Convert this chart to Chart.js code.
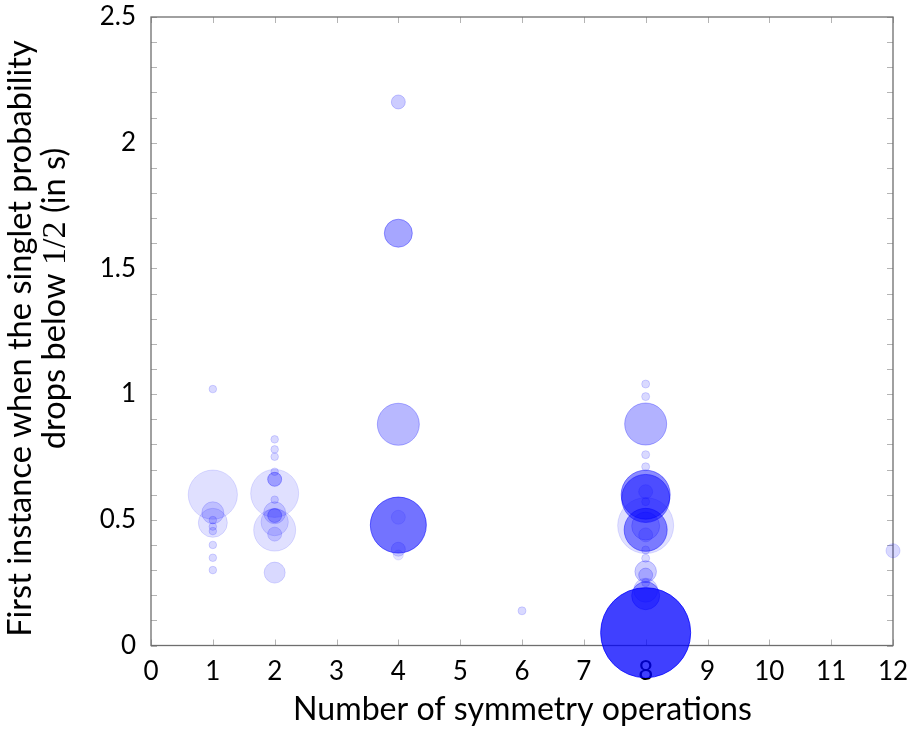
<!DOCTYPE html>
<html><head><meta charset="utf-8">
<script src="https://cdn.jsdelivr.net/npm/chart.js@4"></script>
<style>html,body{margin:0;padding:0;background:#fff}#wrap{width:914px;height:735px}</style>
</head><body><div id="wrap"><canvas id="c" width="914" height="735"></canvas></div>
<script>
// ---- data ----
const xTickValues = [0,1,2,3,4,5,6,7,8,9,10,11,12];
const yTickLabels = ["0","0.5","1","1.5","2","2.5"];
const xTitle = "Number of symmetry operations";
const yTitleLine1 = "First instance when the singlet probability";
const yTitleLine2 = ["drops below ", "1/2", " (in s)"];

const symOps = [
  1,1,1,1,1,1,1,1,1,1,
  2,2,2,2,2,2,2,2,2,2,2,2,2,
  4,4,4,4,4,4,4,
  6,
  8,8,8,8,8,8,8,8,8,8,8,8,8,8,8,8,8,8,8,8,8,
  12
];
const firstDrop = [
  1.02,0.60,0.528,0.488,0.499,0.473,0.455,0.40,0.349,0.30,
  0.82,0.78,0.751,0.691,0.661,0.605,0.58,0.528,0.517,0.491,0.459,0.443,0.29,
  2.162,1.64,0.88,0.479,0.51,0.383,0.36,
  0.138,
  1.04,0.99,0.881,0.759,0.711,0.477,0.60,0.585,0.612,0.572,0.46,0.475,0.44,0.38,0.347,0.294,0.28,0.25,0.22,0.198,0.051,
  0.377
];
const bubbleSize = [
  3.8,24.6,11,14.5,3.8,3.8,3.8,3.8,3.8,3.8,
  3.8,3.8,3.8,3.8,7,24,3.8,11,7,13.7,21,7,10.5,
  7,14,21,28,7,7,5,
  4,
  4,4,21,4,4,28,24.5,24,7,4,21.5,14,7,4,4,10.8,7,4,12,14,45,
  7
];
const opacity = [
  0.15,0.12,0.15,0.12,0.15,0.15,0.15,0.15,0.15,0.15,
  0.15,0.15,0.15,0.15,0.3,0.12,0.15,0.15,0.25,0.12,0.12,0.15,0.15,
  0.2,0.35,0.28,0.55,0.1,0.15,0.1,
  0.15,
  0.15,0.15,0.3,0.15,0.15,0.12,0.45,0.45,0.15,0.15,0.45,0.2,0.15,0.15,0.15,0.2,0.2,0.15,0.15,0.35,0.75,
  0.15
];

// ---- chart ----
const SANS = "Lato";
const SERIF = "'Liberation Serif'";
const points = symOps.map((x,i)=>({x:x, y:firstDrop[i], r:bubbleSize[i]}));
const fills = opacity.map(a=>`rgba(0,0,255,${a})`);

const framePlugin = {
  id:'frame',
  beforeDatasetsDraw(chart){
    const ctx = chart.ctx, a = chart.chartArea;
    const xs = chart.scales.x, ys = chart.scales.y;
    ctx.save();
    // inward ticks
    ctx.strokeStyle = '#b4b4b4'; ctx.lineWidth = 1;
    ctx.beginPath();
    xTickValues.forEach(v=>{
      const px = Math.round(xs.getPixelForValue(v))+0.5;
      ctx.moveTo(px,a.bottom); ctx.lineTo(px,a.bottom-6);
      ctx.moveTo(px,a.top); ctx.lineTo(px,a.top+6);
    });
    for(let k=0;k<=25;k++){
      const py = Math.round(ys.getPixelForValue(k/10))+0.5;
      ctx.moveTo(a.left,py); ctx.lineTo(a.left+6,py);
      ctx.moveTo(a.right,py); ctx.lineTo(a.right-6,py);
    }
    ctx.stroke();
    // frame
    ctx.strokeStyle = '#6e6e6e'; ctx.lineWidth = 1.3;
    ctx.strokeRect(a.left, a.top, a.right-a.left, a.bottom-a.top);
    ctx.restore();
    // titles
    ctx.save();
    ctx.fillStyle = '#000';
    ctx.textBaseline = 'alphabetic';
    // x title
    ctx.font = `100px ${SANS}`;
    let w = ctx.measureText(xTitle).width;
    const fx = 100*459/w;
    ctx.font = `${fx}px ${SANS}`;
    ctx.textAlign = 'center';
    ctx.fillText(xTitle, 522.5, 720);
    // y title line 1
    ctx.font = `100px ${SANS}`;
    w = ctx.measureText(yTitleLine1).width;
    const fy = 100*597/w;
    ctx.save();
    ctx.translate(31, 338.5);
    ctx.rotate(-Math.PI/2);
    ctx.font = `${fy}px ${SANS}`;
    ctx.textAlign = 'center';
    ctx.fillText(yTitleLine1, 0, 0);
    ctx.restore();
    // y title line 2 (mixed fonts)
    const fonts = [`${fy}px ${SANS}`, `${fy*1.05}px ${SERIF}`, `${fy}px ${SANS}`];
    let widths = yTitleLine2.map((t,i)=>{ctx.font=fonts[i]; return ctx.measureText(t).width;});
    const total = widths.reduce((s,v)=>s+v,0);
    ctx.save();
    ctx.translate(65, 298.5);
    ctx.rotate(-Math.PI/2);
    ctx.textAlign = 'left';
    let pos = -total/2;
    yTitleLine2.forEach((t,i)=>{ctx.font=fonts[i]; ctx.fillText(t,pos,0); pos+=widths[i];});
    ctx.restore();
    ctx.restore();
  }
};

function noPad(s){ s.paddingTop=0; s.paddingBottom=0; s.paddingLeft=0; s.paddingRight=0; }

new Chart(document.getElementById('c'), {
  type:'bubble',
  data:{datasets:[{
    data:points,
    backgroundColor:fills,
    borderColor:fills,
    borderWidth:1,
    clip:false
  }]},
  options:{
    responsive:false, animation:false, devicePixelRatio:1, events:[],
    layout:{autoPadding:false, padding:{top:17,right:21,left:0,bottom:0}},
    plugins:{legend:{display:false}, tooltip:{enabled:false}},
    scales:{
      x:{type:'linear', min:0, max:12,
        afterBuildTicks:(s)=>{s.ticks = xTickValues.map(v=>({value:v}));},
        ticks:{font:{family:SANS,size:26}, color:'#000', padding:11, maxRotation:0, autoSkip:false,
          callback:(v)=>String(v)},
        grid:{display:false, drawTicks:false}, border:{display:false},
        afterFit:(s)=>{s.height = 89.5; noPad(s);}
      },
      y:{type:'linear', min:0, max:2.5,
        afterBuildTicks:(s)=>{s.ticks = yTickLabels.map(t=>({value:parseFloat(t)}));},
        ticks:{font:{family:SANS,size:26}, color:'#000', padding:15, autoSkip:false,
          callback:(v,i)=>yTickLabels[i]},
        grid:{display:false, drawTicks:false}, border:{display:false},
        afterFit:(s)=>{s.width = 151; noPad(s);}
      }
    }
  },
  plugins:[framePlugin]
});
</script></body></html>
